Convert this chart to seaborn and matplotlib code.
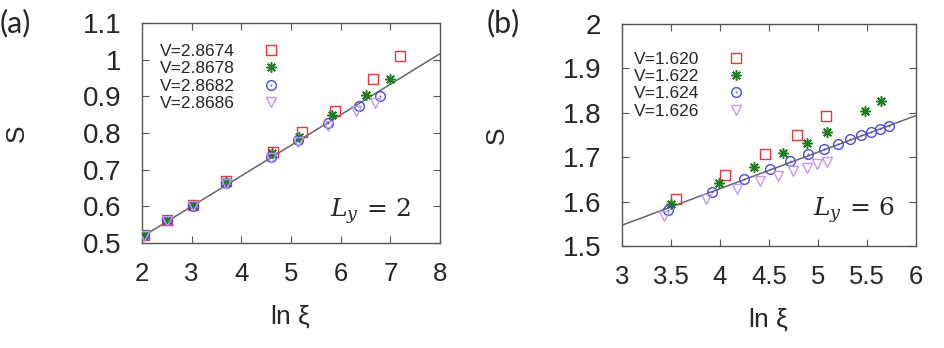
import numpy as np
import pandas as pd
import seaborn as sns
import matplotlib.pyplot as plt
from matplotlib.path import Path

# ---- data ----
# panel (a), L_y = 2
a_labels = ['V=2.8674', 'V=2.8678', 'V=2.8682', 'V=2.8686']
a_x_red = [2.04, 2.51, 3.02, 3.70, 4.63, 5.22, 5.88, 6.65, 7.19]
a_y_red = [0.522, 0.563, 0.603, 0.669, 0.749, 0.803, 0.861, 0.947, 1.010]
a_x_green = [2.04, 2.51, 3.02, 3.70, 4.61, 5.17, 5.82, 6.51, 6.99]
a_y_green = [0.522, 0.563, 0.603, 0.666, 0.745, 0.790, 0.849, 0.905, 0.948]
a_x_blue = [2.04, 2.51, 3.02, 3.70, 4.59, 5.15, 5.74, 6.36, 6.80]
a_y_blue = [0.521, 0.562, 0.602, 0.663, 0.735, 0.781, 0.828, 0.875, 0.901]
a_x_purple = [2.04, 2.51, 3.02, 3.70, 4.59, 5.15, 5.74, 6.30, 6.70]
a_y_purple = [0.520, 0.561, 0.601, 0.661, 0.731, 0.776, 0.819, 0.860, 0.882]
a_fit = (0.0833, 0.350)   # slope, intercept
a_xticks = [2, 3, 4, 5, 6, 7, 8]
a_yticks = [0.5, 0.6, 0.7, 0.8, 0.9, 1.0, 1.1]
a_yticklabels = ['0.5', '0.6', '0.7', '0.8', '0.9', '1', '1.1']

# panel (b), L_y = 6
b_labels = ['V=1.620', 'V=1.622', 'V=1.624', 'V=1.626']
b_x_red = [3.547, 4.053, 4.458, 4.784, 5.080]
b_y_red = [1.606, 1.661, 1.708, 1.751, 1.793]
b_x_green = [3.503, 3.985, 4.342, 4.638, 4.886, 5.097, 5.481, 5.644]
b_y_green = [1.595, 1.643, 1.677, 1.709, 1.733, 1.757, 1.803, 1.827]
b_x_blue = [3.466, 3.918, 4.250, 4.512, 4.716, 4.903, 5.063, 5.202, 5.324,
            5.436, 5.542, 5.637, 5.725]
b_y_blue = [1.581, 1.622, 1.651, 1.674, 1.691, 1.707, 1.718, 1.730, 1.740,
            1.749, 1.756, 1.763, 1.770]
b_x_purple = [3.425, 3.853, 4.173, 4.407, 4.590, 4.750, 4.886, 4.995, 5.093]
b_y_purple = [1.568, 1.606, 1.628, 1.646, 1.658, 1.669, 1.676, 1.684, 1.690]
b_fit = (0.0823, 1.300)
b_xticks = [3, 3.5, 4, 4.5, 5, 5.5, 6]
b_xticklabels = ['3', '3.5', '4', '4.5', '5', '5.5', '6']
b_yticks = [1.5, 1.6, 1.7, 1.8, 1.9, 2.0]
b_yticklabels = ['1.5', '1.6', '1.7', '1.8', '1.9', '2']

colors = ['#e8383d', '#1e7d1e', '#4b4bdc', '#c09ae8']


def dotted(base):
    # open marker with a tiny dot in the middle, gnuplot style
    outer = base.vertices
    inner = np.array([[-1, -1], [1, -1], [1, 1], [-1, 1], [-1, -1]]) * 0.04
    verts = np.concatenate([outer, inner])
    codes = np.concatenate([base.codes if base.codes is not None else
                            [Path.MOVETO] + [Path.LINETO] * (len(outer) - 1),
                            [Path.MOVETO, Path.LINETO, Path.LINETO, Path.LINETO, Path.CLOSEPOLY]])
    return Path(verts, codes)


sq = Path([[-1, -1], [1, -1], [1, 1], [-1, 1], [-1, -1]],
          [Path.MOVETO, Path.LINETO, Path.LINETO, Path.LINETO, Path.CLOSEPOLY])
circ = Path.unit_circle()
markers = [dotted(sq), (8, 2, 0), dotted(circ), 'v']
msizes = [6.5, 7.5, 7.0, 6.5]

sns.set_style('ticks')
plt.rcParams['font.family'] = ['Liberation Sans', 'DejaVu Sans']
plt.rcParams['mathtext.fontset'] = 'dejavuserif'

fig = plt.figure(figsize=(9.44, 3.48), dpi=100)
ax1 = fig.add_axes([0.1504, 0.3017, 0.3157, 0.632])
ax2 = fig.add_axes([0.6589, 0.293, 0.3114, 0.638])


def panel(ax, xs, ys, labels, fit, xlim, ylim, xticks, xtl, yticks, ytl, ly, lpos, leg_anchor):
    xx = np.array(xlim)
    sns.lineplot(x=xx, y=fit[0] * xx + fit[1], ax=ax, color='#666666', lw=1.1, zorder=1)
    for i in range(4):
        sns.lineplot(x=xs[i], y=ys[i], ax=ax, estimator=None, sort=False,
                     marker=markers[i], linestyle='', markersize=msizes[i],
                     markerfacecolor='none', markeredgewidth=1.1 if i == 1 else 1.0,
                     markeredgecolor=colors[i], color=colors[i],
                     label=labels[i], zorder=3)
    ax.set_xlim(xlim)
    ax.set_ylim(ylim)
    ax.set_xticks(xticks)
    ax.set_xticklabels(xtl)
    ax.set_yticks(yticks)
    ax.set_yticklabels(ytl)
    ax.tick_params(direction='in', top=True, right=True, length=5, width=0.8,
                   color='#555555')
    ax.tick_params(axis='x', labelsize=18.5, pad=14)
    ax.tick_params(axis='y', labelsize=20, pad=15)
    for s in ax.spines.values():
        s.set_visible(True)
        s.set_color('#555555')
        s.set_linewidth(1.0)
    ax.set_xlabel(r'ln $\mathregular{\xi}$', fontsize=19, labelpad=12)
    ax.set_ylabel('S', fontsize=19, labelpad=39)
    ax.text(lpos[0], lpos[1], ly, transform=ax.transAxes, fontsize=18,
            ha='right', va='center')
    ax.legend(loc='upper left', bbox_to_anchor=leg_anchor, frameon=False,
              markerfirst=False, fontsize=12.5, handlelength=1.0,
              handletextpad=1.6, labelspacing=0.12, borderpad=0,
              borderaxespad=0)


panel(ax1, [a_x_red, a_x_green, a_x_blue, a_x_purple],
      [a_y_red, a_y_green, a_y_blue, a_y_purple], a_labels, a_fit,
      (2, 8), (0.5, 1.1), a_xticks, [str(t) for t in a_xticks],
      a_yticks, a_yticklabels, r'$L_y\,=\,2$', (0.905, 0.14), (0.06, 0.905))
panel(ax2, [b_x_red, b_x_green, b_x_blue, b_x_purple],
      [b_y_red, b_y_green, b_y_blue, b_y_purple], b_labels, b_fit,
      (3, 6), (1.5, 2.0), b_xticks, b_xticklabels,
      b_yticks, b_yticklabels, r'$L_y\,=\,6$', (0.93, 0.16), (0.04, 0.875))

fig.text(0.0, 0.935, '(a)', fontsize=22, family=['Lato', 'DejaVu Sans'], va='center')
fig.text(0.516, 0.935, '(b)', fontsize=22, family=['Lato', 'DejaVu Sans'], va='center')

fig.savefig('out.png', dpi=100)
